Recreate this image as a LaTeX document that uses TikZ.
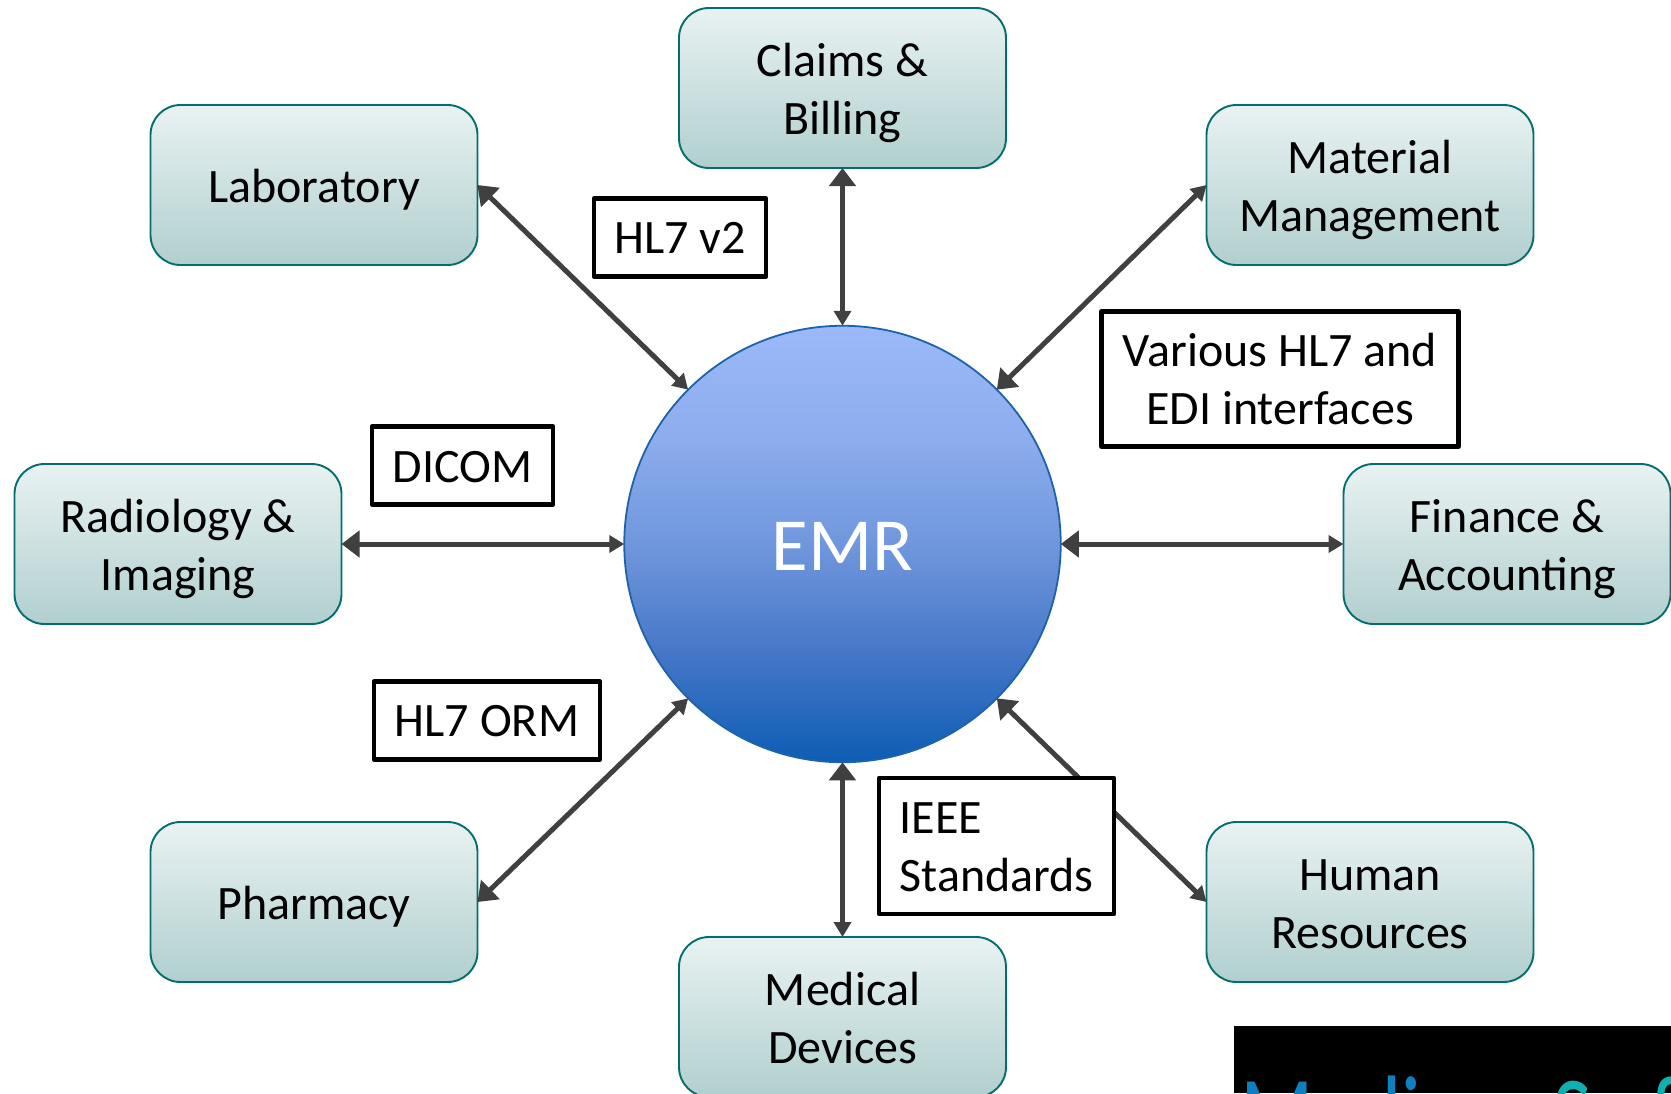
\documentclass[tikz,border=0pt]{standalone}
\usepackage{fontspec}
\setmainfont{Carlito}
\usetikzlibrary{arrows.meta}
\definecolor{boxline}{HTML}{046E6E}
\definecolor{boxtop}{HTML}{E9F2F2}
\definecolor{boxbot}{HTML}{B1CFCF}
\definecolor{emrtop}{HTML}{9BB9F8}
\definecolor{emrqa}{HTML}{8DADEE}
\definecolor{emrmid}{HTML}{7097DD}
\definecolor{emrqb}{HTML}{4677C7}
\definecolor{emrbot}{HTML}{0C5DB4}
\definecolor{emrline}{HTML}{1F62AC}
\definecolor{linkc}{HTML}{404040}
\definecolor{logoblue}{HTML}{0F7FBF}
\definecolor{logoteal}{HTML}{0FB0B0}
\pgfdeclareverticalshading{emrshade}{100bp}{color(0bp)=(emrbot); color(25bp)=(emrbot); color(37.5bp)=(emrqb); color(50bp)=(emrmid); color(62.5bp)=(emrqa); color(75bp)=(emrtop); color(100bp)=(emrtop)}
\newcommand{\lowc}[2]{\raisebox{-#1pt}[\height][\depth]{\begin{tabular}{@{}c@{}}#2\end{tabular}}}
\newcommand{\lowl}[2]{\raisebox{-#1pt}[\height][\depth]{\begin{tabular}{@{}l@{}}#2\end{tabular}}}
\tikzset{
  dept/.style={draw=boxline,line width=1.9pt,rounded corners=30pt,top color=boxtop,bottom color=boxbot,
    minimum width=327pt,minimum height=160pt,align=center,font=\fontsize{48}{57.5}\selectfont,text=black,outer sep=0pt,inner sep=0pt},
  tag/.style={draw=black,line width=4.6pt,line join=round,fill=white,align=center,font=\fontsize{48}{57.5}\selectfont,text=black,inner sep=0pt,outer sep=0pt},
  link/.style={draw=linkc,line width=5pt,{Triangle[length=18pt,width=26pt]}-{Triangle[length=15pt,width=17pt]},shorten >=0pt,shorten <=0pt}
}
\begin{document}
\begin{tikzpicture}[x=1pt,y=-1pt]
\useasboundingbox (0,0) rectangle (1671,1093);
\fill[white] (0,0) rectangle (1671,1093);
% logo fragment
\begin{scope}
\clip (1234,1026) rectangle (1671,1093);
\fill[black] (1234,1026) rectangle (1671,1093);
\node[anchor=base west,inner sep=0pt,yscale=1.35,transform shape,font=\fontsize{86}{86}\selectfont,text=logoblue] (logoa) at (1240,1156) {Medi};
\node[anchor=base west,inner sep=0pt,yscale=1.35,transform shape,font=\fontsize{86}{86}\selectfont,text=logoteal] (logob) at (1552,1156) {So\kern 14pt f};
\end{scope}
\node[dept] (claims) at (842.5,88) {\lowc{6}{Claims \&\\Billing}};
\node[dept] (lab) at (314,185) {\lowc{6}{Laboratory}};
\node[dept] (mat) at (1370,185) {\lowc{6}{Material\\Management}};
\node[dept] (rad) at (178,544) {\lowc{6}{Radiology \&\\Imaging}};
\node[dept] (fin) at (1507,544) {\lowc{6}{Finance \&\\Accounting}};
\node[dept] (pharm) at (314,902) {\lowc{6}{Pharmacy}};
\node[dept] (hr) at (1370,902) {\lowc{6}{Human\\Resources}};
\node[dept] (dev) at (842.5,1017) {\lowc{6}{Medical\\Devices}};
\node[circle,draw=emrline,line width=1.8pt,shading=emrshade,minimum size=436.5pt,inner sep=0pt,outer sep=0pt,text=white,font=\fontsize{75}{85}\selectfont] (emr) at (842.5,544) {\lowc{9}{EMR}};
\draw[link] (lab.east) -- (emr.135);
\draw[link] (claims.south) -- (emr.north);
\draw[link] (emr.45) -- (mat.west);
\draw[link] (rad.east) -- (emr.west);
\draw[link] (emr.east) -- (fin.west);
\draw[link] (pharm.east) -- (emr.225);
\draw[link] (emr.south) -- (dev.north);
\draw[link] (emr.315) -- (hr.west);
\node[tag,minimum width=172pt,minimum height=78pt] (t1) at (680,237.5) {\lowc{4}{HL7 v2}};
\node[tag,minimum width=181pt,minimum height=78pt] (t2) at (462.5,465.5) {\lowc{5}{DICOM}};
\node[tag,minimum width=357pt,minimum height=135pt] (t3) at (1280,379) {\lowc{5}{Various HL7 and\\EDI interfaces}};
\node[tag,minimum width=226pt,minimum height=78pt] (t4) at (487,720.5) {\lowc{4}{HL7 ORM}};
\node[tag,minimum width=235pt,minimum height=136pt] (t5) at (996.5,846) {\lowl{5}{IEEE\\Standards}};
\end{tikzpicture}
\end{document}
